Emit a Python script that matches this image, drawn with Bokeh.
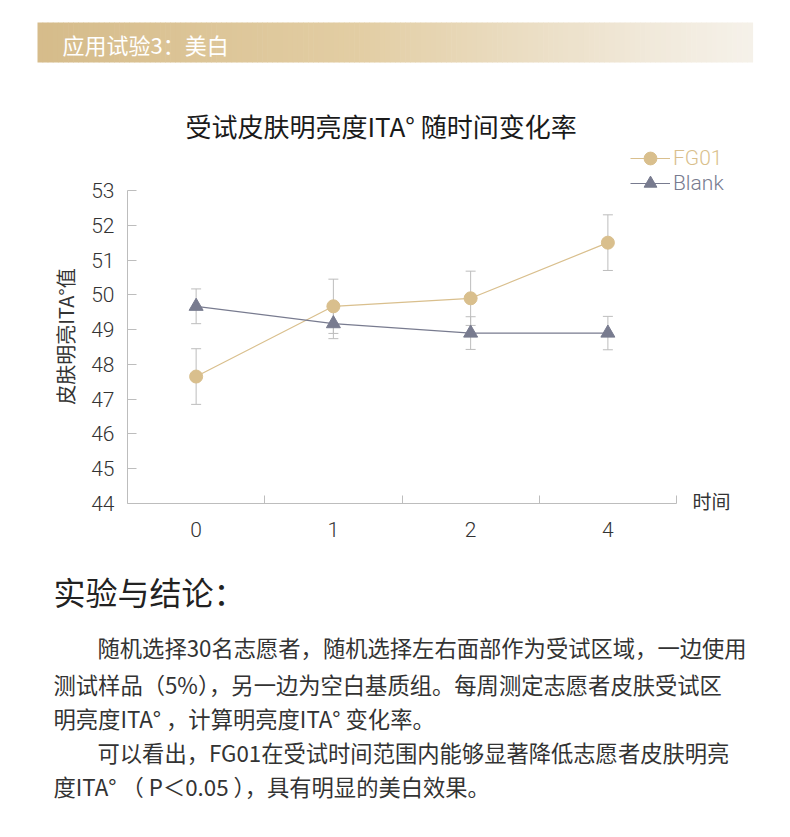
import numpy as np
from math import pi
from bokeh.plotting import figure
from bokeh.models import (ColumnDataSource, Range1d, FixedTicker, Whisker, TeeHead,
                          Legend, LegendItem, Label)
from bokeh.layouts import column
from bokeh.embed import file_html
from bokeh.resources import INLINE

# ---------------- data ----------------
times = ["0", "1", "2", "4"]
fg01 = [47.65, 49.67, 49.90, 51.50]
fg01_err = [0.80, 0.78, 0.78, 0.80]
blank = [49.67, 49.17, 48.90, 48.90]
blank_err = [0.50, 0.43, 0.47, 0.48]
y_ticks = [44, 45, 46, 47, 48, 49, 50, 51, 52, 53]

header_text = "应用试验3：美白"
title_text = "受试皮肤明亮度ITA° 随时间变化率"
y_label = "皮肤明亮ITA°值"
x_label = "时间"
section_title = "实验与结论："
para_lines = [
    "随机选择30名志愿者，随机选择左右面部作为受试区域，一边使用",
    "测试样品（5%），另一边为空白基质组。每周测定志愿者皮肤受试区",
    "明亮度ITA° ，计算明亮度ITA° 变化率。",
    "可以看出，FG01在受试时间范围内能够显著降低志愿者皮肤明亮",
    "度ITA° （ P＜0.05 ），具有明显的美白效果。",
]
para_indent = [True, False, False, True, False]

# ---------------- styles ----------------
CJK = "Noto Sans CJK SC"
NUM = "'Roboto Light', Roboto"
TAN = "#D9BF8D"
SLATE = "#787B8F"
ERR = "#BDBDBD"
AXIS = "#BDBDBD"
TXT = "#333333"
W = 784

# ---------------- header banner ----------------
H1 = 100
hdr = figure(width=W, height=H1, x_range=Range1d(0, W), y_range=Range1d(H1, 0),
             x_axis_type=None, y_axis_type=None, output_backend="svg",
             toolbar_location=None, min_border=0, frame_align=False)
hdr.grid.visible = False
hdr.outline_line_color = None

n = 140
x0b, x1b = 37, 752
edges = np.linspace(x0b, x1b, n + 1)
stops = [0.0, 0.45, 0.85, 1.0]
cols = np.array([[214, 188, 139], [227, 206, 164], [241, 233, 218], [246, 242, 234]])
mids = (edges[:-1] + edges[1:]) / 2
fr = (mids - x0b) / (x1b - x0b)
rgb = np.stack([np.interp(fr, stops, cols[:, k]) for k in range(3)], axis=1).astype(int)
strip_colors = ["#%02x%02x%02x" % tuple(c) for c in rgb]
hdr.quad(left=edges[:-1], right=edges[1:] + 0.6, top=22, bottom=62,
         fill_color=strip_colors, line_color=None)
hdr.add_layout(Label(x=62, y=43, text=header_text, text_color="white",
                     text_font=CJK, text_font_size="22px", text_baseline="middle"))

# ---------------- chart + text (one large frame, axes fixed inside it) ----------------
H2 = 737                      # page rows 100 .. 837
FL, FB = 44, 38               # left / bottom borders -> frame spans page x 44..784, y 100..799
frame_top_pg, frame_bot_pg = H1, H1 + H2 - FB
px_per_x = 137.25             # one time category
px_per_y = 34.78              # one ITA unit
x_org_pg, y_org_pg = 127, 503 # page position of (x=0, y=44)
x_rng = Range1d((FL - x_org_pg) / px_per_x, (W - x_org_pg) / px_per_x)
y_rng = Range1d(y_ticks[0] - (frame_bot_pg - y_org_pg) / px_per_y,
                y_ticks[0] + (y_org_pg - frame_top_pg) / px_per_y)

p = figure(width=W, height=H2, x_range=x_rng, y_range=y_rng,
           output_backend="svg", toolbar_location=None, frame_align=False,
           min_border_left=FL, min_border_right=0, min_border_top=0, min_border_bottom=FB)
p.extra_x_ranges = {"px": Range1d(FL, W)}
p.extra_y_ranges = {"py": Range1d(frame_bot_pg, frame_top_pg)}
p.grid.visible = False
p.outline_line_color = None

xs = [i + 0.5 for i in range(len(times))]
src = ColumnDataSource(dict(
    x=xs, fg=fg01, bl=blank,
    fg_up=[v + e for v, e in zip(fg01, fg01_err)],
    fg_lo=[v - e for v, e in zip(fg01, fg01_err)],
    bl_up=[v + e for v, e in zip(blank, blank_err)],
    bl_lo=[v - e for v, e in zip(blank, blank_err)],
))

for up, lo in (("fg_up", "fg_lo"), ("bl_up", "bl_lo")):
    w = Whisker(base="x", upper=up, lower=lo, source=src, line_color=ERR, line_width=1,
                upper_head=TeeHead(size=10, line_color=ERR, line_width=1),
                lower_head=TeeHead(size=10, line_color=ERR, line_width=1),
                level="underlay")
    p.add_layout(w)

fg_line = p.line("x", "fg", source=src, line_color=TAN, line_width=1.2)
fg_pts = p.scatter("x", "fg", source=src, marker="circle", size=13,
                   fill_color=TAN, line_color=TAN)
bl_line = p.line("x", "bl", source=src, line_color=SLATE, line_width=1.2)
bl_pts = p.scatter("x", "bl", source=src, marker="triangle", size=14,
                   fill_color=SLATE, line_color=SLATE)

# axes (fixed at the data origin, inside the frame)
xa = p.xaxis[0]
xa.fixed_location = y_ticks[0]
xa.bounds = (0, len(times))
xa.ticker = FixedTicker(ticks=xs, minor_ticks=list(range(1, len(times) + 1)))
xa.major_label_overrides = {x: t for x, t in zip(xs, times)}
xa.major_tick_line_color = None
xa.minor_tick_in = 8
xa.minor_tick_out = 0
xa.minor_tick_line_color = AXIS
xa.axis_line_color = AXIS
xa.major_label_text_font = NUM
xa.major_label_text_font_size = "21px"
xa.major_label_text_color = TXT
xa.major_label_standoff = 12

ya = p.yaxis[0]
ya.fixed_location = 0
ya.bounds = (y_ticks[0], y_ticks[-1])
ya.ticker = FixedTicker(ticks=y_ticks)
ya.major_tick_in = 9
ya.major_tick_out = 0
ya.major_tick_line_color = AXIS
ya.minor_tick_line_color = None
ya.axis_line_color = AXIS
ya.major_label_text_font = NUM
ya.major_label_text_font_size = "21px"
ya.major_label_text_color = TXT
ya.major_label_standoff = 13

def px_label(x, y, text, size, color=TXT, **kw):
    p.add_layout(Label(x=x, y=y, text=text, text_font=CJK, text_font_size=size,
                       text_color=color, text_baseline="middle",
                       x_range_name="px", y_range_name="py", **kw))

px_label(185, 125, title_text, "26px", "#1a1a1a")
px_label(65, 336, y_label, "20px", angle=pi / 2, text_align="center")

p.add_layout(Label(x=len(times), y=y_ticks[0], x_offset=16, y_offset=3, text=x_label,
                   text_font=CJK, text_font_size="19px", text_color=TXT,
                   text_baseline="middle"))

# legends (one per series, so each label keeps its colour)
for lab, rends, col, row_c in (("FG01", [fg_line, fg_pts], TAN, 158),
                               ("Blank", [bl_line, bl_pts], SLATE, 183)):
    lg = Legend(items=[LegendItem(label=lab, renderers=rends)],
                location=(630 - FL, frame_bot_pg - (row_c + 16)),
                border_line_color=None, background_fill_alpha=0, padding=0, margin=0,
                glyph_width=40, glyph_height=32, label_standoff=3, spacing=0,
                label_text_font=NUM, label_text_font_size="21px",
                label_text_color=col, label_text_baseline="middle")
    p.add_layout(lg)

# text block
px_label(53, 590, section_title, "32px", "#222222")
line_y = [646, 683, 717, 751, 785]
for s, ind, yy in zip(para_lines, para_indent, line_y):
    px_label(97 if ind else 53, yy, s, "22.3px")

layout = column(hdr, p)
open("out.html", "w").write(file_html(layout, INLINE))
